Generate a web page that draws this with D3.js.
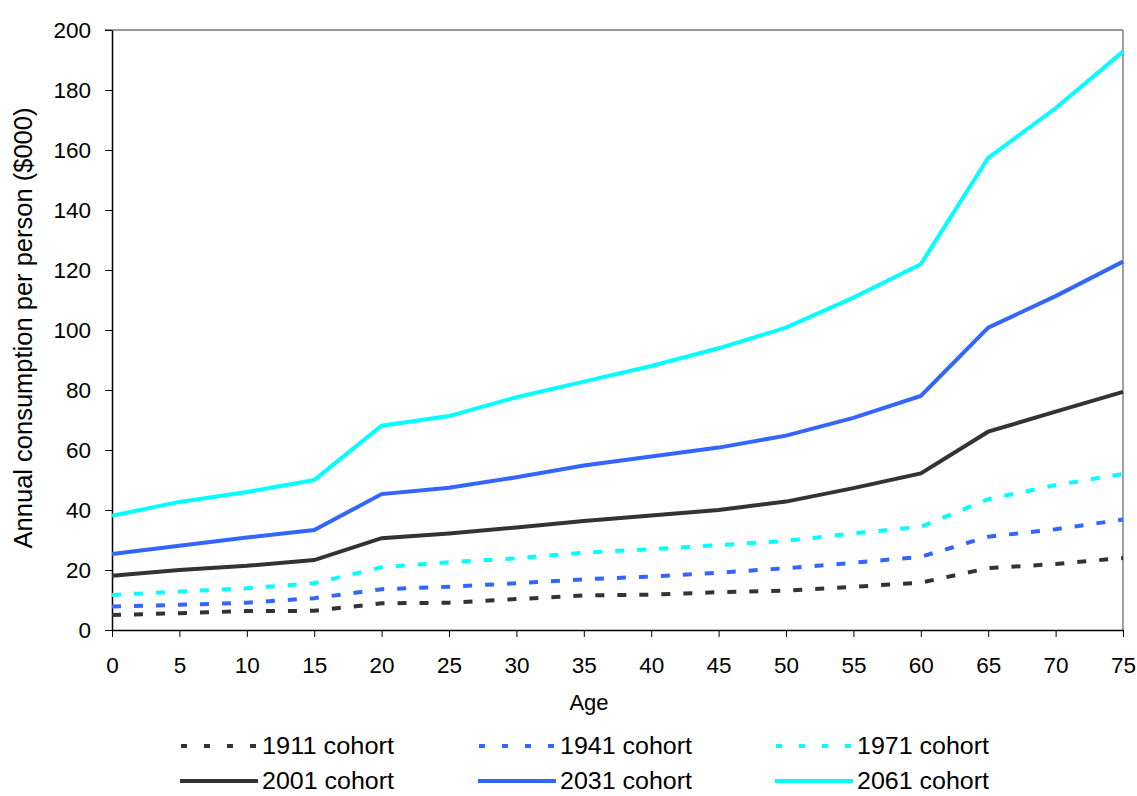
<!DOCTYPE html>
<html>
<head>
<meta charset="utf-8">
<script src="https://cdn.jsdelivr.net/npm/d3@7"></script>
<style>
  body { margin: 0; background: #fff; }
  svg { display: block; font-family: "Liberation Sans", Arial, sans-serif; }
  .axis text { font-size: 22.5px; fill: #000; }
  .axis path, .axis line { stroke: #000; }
</style>
</head>
<body>
<svg id="chart" width="1137" height="796"></svg>
<script>
// ages along the x axis
var ages = [0, 5, 10, 15, 20, 25, 30, 35, 40, 45, 50, 55, 60, 65, 70, 75];

// annual consumption per person ($000)
var c1911 = [5.0, 5.6, 6.3, 6.4, 8.9, 9.1, 10.3, 11.5, 11.8, 12.6, 13.1, 14.4, 15.8, 20.6, 22.0, 24.0];
var c1941 = [7.8, 8.4, 9.1, 10.6, 13.6, 14.4, 15.6, 16.9, 17.8, 19.1, 20.6, 22.4, 24.4, 31.1, 33.6, 36.8];
var c1971 = [11.7, 12.8, 13.9, 15.6, 20.9, 22.6, 23.9, 25.8, 26.9, 28.3, 29.7, 32.2, 34.4, 43.6, 48.3, 52.0];
var c2001 = [18.1, 20.0, 21.4, 23.3, 30.6, 32.2, 34.2, 36.3, 38.2, 40.0, 42.8, 47.3, 52.2, 66.1, 72.8, 79.4];
var c2031 = [25.3, 28.1, 30.8, 33.3, 45.3, 47.4, 50.9, 54.8, 57.8, 60.8, 64.8, 70.7, 78.0, 100.8, 111.3, 122.8];
var c2061 = [38.1, 42.7, 46.0, 50.0, 68.1, 71.3, 77.6, 82.8, 88.0, 93.9, 100.8, 110.8, 121.9, 157.4, 173.9, 192.8];

var seriesNames = ["1911 cohort", "1941 cohort", "1971 cohort", "2001 cohort", "2031 cohort", "2061 cohort"];
var yTicks = [0, 20, 40, 60, 80, 100, 120, 140, 160, 180, 200];

var series = [
	{name: seriesNames[0], values: c1911, color: "#333333", dashed: true},
	{name: seriesNames[1], values: c1941, color: "#3366ff", dashed: true},
	{name: seriesNames[2], values: c1971, color: "#00ffff", dashed: true},
	{name: seriesNames[3], values: c2001, color: "#333333", dashed: false},
	{name: seriesNames[4], values: c2031, color: "#3366ff", dashed: false},
	{name: seriesNames[5], values: c2061, color: "#00ffff", dashed: false}
];

var margin = {top: 30, right: 14, bottom: 166, left: 112},
	width = 1137 - margin.left - margin.right,
	height = 796 - margin.top - margin.bottom;

var svg = d3.select("#chart");
var g = svg.append("g")
	.attr("transform", "translate(" + margin.left + "," + margin.top + ")");

var x = d3.scaleLinear().domain([0, 75]).range([0, width]);
var y = d3.scaleLinear().domain([0, 200]).range([height, 0]);

// frame: top and right edges
g.append("line")
	.attr("x1", -7).attr("x2", width)
	.attr("y1", 0).attr("y2", 0)
	.attr("stroke", "#333").attr("stroke-width", 1.2);
g.append("line")
	.attr("x1", width).attr("x2", width)
	.attr("y1", 0).attr("y2", height)
	.attr("stroke", "#808080").attr("stroke-width", 1.5);

g.append("g")
	.attr("class", "axis")
	.call(d3.axisLeft(y).tickValues(yTicks).tickSize(7).tickPadding(14).tickSizeOuter(0))
	.call(function(a) { a.select(".domain").attr("stroke-width", 1.5); });

g.append("g")
	.attr("class", "axis")
	.attr("transform", "translate(0," + height + ")")
	.call(d3.axisBottom(x).tickValues(ages).tickSize(7).tickPadding(20).tickSizeOuter(0))
	.call(function(a) { a.select(".domain").attr("stroke-width", 1.5); });

var line = d3.line()
	.x(function(d, i) { return x(ages[i]); })
	.y(function(d) { return y(d); });

g.selectAll(".series")
	.data(series)
	.enter()
	.append("path")
	.attr("class", "series")
	.attr("fill", "none")
	.attr("stroke", function(d) { return d.color; })
	.attr("stroke-width", 4)
	.attr("stroke-dasharray", function(d) { return d.dashed ? "9,13" : null; })
	.attr("d", function(d) { return line(d.values); });

// axis titles
svg.append("text")
	.attr("transform", "translate(32," + 328 + ") rotate(-90)")
	.attr("text-anchor", "middle")
	.style("font-size", "25.5px")
	.text("Annual consumption per person ($000)");

svg.append("text")
	.attr("x", 589)
	.attr("y", 710)
	.attr("text-anchor", "middle")
	.style("font-size", "22px")
	.text("Age");

// legend, three columns by two rows
var legX = [180, 478, 775],
	legY = [746, 781];

var leg = svg.selectAll(".legend")
	.data(series)
	.enter()
	.append("g")
	.attr("class", "legend")
	.attr("transform", function(d, i) {
		return "translate(" + legX[i % 3] + "," + legY[Math.floor(i / 3)] + ")";
	});

leg.append("line")
	.attr("x1", 0).attr("x2", 78)
	.attr("y1", 0).attr("y2", 0)
	.attr("stroke", function(d) { return d.color; })
	.attr("stroke-width", 4)
	.attr("stroke-dasharray", function(d) { return d.dashed ? "6,17" : null; })
	.attr("stroke-dashoffset", -1);

leg.append("text")
	.attr("x", 82)
	.attr("y", 8)
	.style("font-size", "23.5px")
	.attr("textLength", 132)
	.attr("lengthAdjust", "spacingAndGlyphs")
	.text(function(d) { return d.name; });
</script>
</body>
</html>
